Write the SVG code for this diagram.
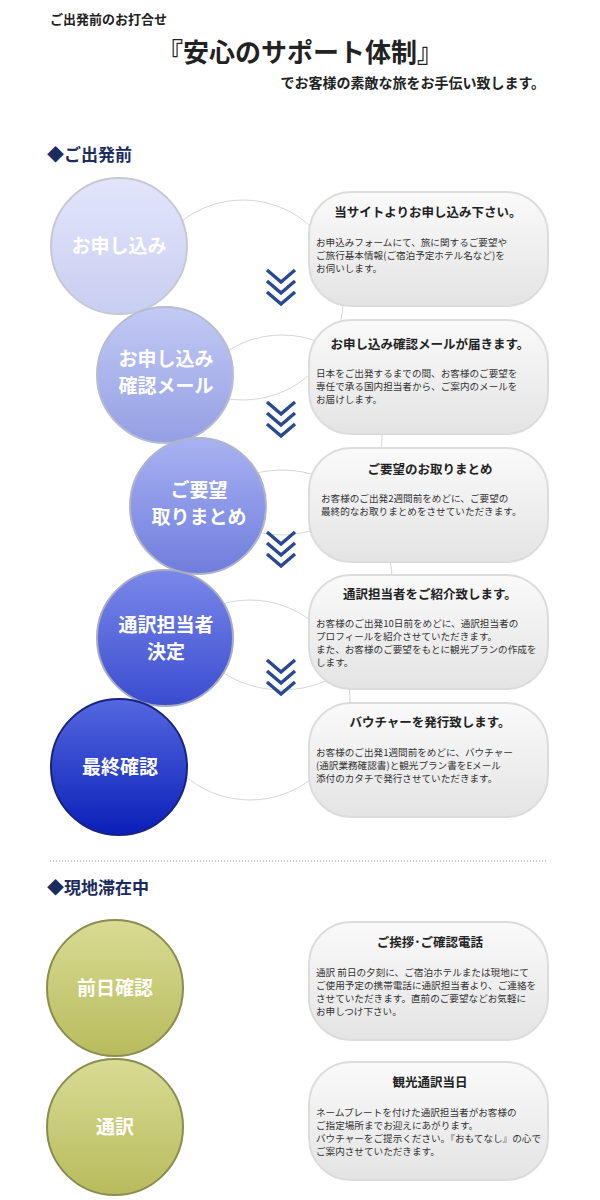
<svg xmlns="http://www.w3.org/2000/svg" width="600" height="1200" viewBox="0 0 600 1200">
<defs>
<style>
text{font-family:"Noto Sans CJK JP",sans-serif}
.h{font-weight:bold;fill:#222}
.sec{font-size:17px;font-weight:bold;fill:#1b2b5e}
.ct{font-size:19px;font-weight:bold;fill:#fff;text-anchor:middle}
.bt{font-size:12.5px;font-weight:bold;fill:#222;text-anchor:middle}
.bd{font-size:9.6px;fill:#333}
.box{fill:url(#gb);stroke:#dcdcdc;stroke-width:2}
.deco{fill:none;stroke:#d6d6d6;stroke-width:1}
.chev{fill:none;stroke:#2a4a90;stroke-width:3.5}
</style>
<linearGradient id="gb" x1="0" y1="0" x2="0" y2="1"><stop offset="0" stop-color="#fafafa"/><stop offset="1" stop-color="#e4e4e4"/></linearGradient>
<linearGradient id="c1" x1="0" y1="0" x2="0" y2="1"><stop offset="0" stop-color="#e2e5fa"/><stop offset="1" stop-color="#c8cef2"/></linearGradient>
<linearGradient id="c2" x1="0" y1="0" x2="0" y2="1"><stop offset="0" stop-color="#c3caf4"/><stop offset="1" stop-color="#949fe4"/></linearGradient>
<linearGradient id="c3" x1="0" y1="0" x2="0" y2="1"><stop offset="0" stop-color="#a8b2f2"/><stop offset="1" stop-color="#6f7ddc"/></linearGradient>
<linearGradient id="c4" x1="0" y1="0" x2="0" y2="1"><stop offset="0" stop-color="#7a88ea"/><stop offset="1" stop-color="#3a4ccf"/></linearGradient>
<linearGradient id="c5" x1="0" y1="0" x2="0" y2="1"><stop offset="0" stop-color="#5568e0"/><stop offset="1" stop-color="#0a1fb8"/></linearGradient>
<linearGradient id="c6" x1="0" y1="0" x2="0" y2="1"><stop offset="0" stop-color="#d8dc94"/><stop offset="1" stop-color="#b8bb5c"/></linearGradient>
</defs>
<rect width="600" height="1200" fill="#fff"/>
<text x="50" y="24" class="h" font-size="13">ご出発前のお打合せ</text>
<text x="300" y="62" class="h" font-size="26" text-anchor="middle">『安心のサポート体制』</text>
<text x="545" y="88" class="h" font-size="14" text-anchor="end">でお客様の素敵な旅をお手伝い致します。</text>
<text x="47" y="161" class="sec">◆ご出発前</text>
<text x="47" y="894" class="sec">◆現地滞在中</text>
<line x1="50" y1="861" x2="548" y2="861" stroke="#999" stroke-dasharray="1,2"/>
<g id="deco">
<circle cx="243" cy="300" r="100" class="deco"/>
<circle cx="282" cy="435" r="100" class="deco"/>
<circle cx="282" cy="580" r="110" class="deco"/>
<circle cx="250" cy="700" r="100" class="deco"/>
</g>
<g id="connectors">
<path class="chev" d="M267,270 l14,12 l14,-12 M267,281 l14,12 l14,-12 M267,292 l14,12 l14,-12"/>
<path class="chev" d="M267,402 l14,12 l14,-12 M267,413 l14,12 l14,-12 M267,424 l14,12 l14,-12"/>
<path class="chev" d="M267,532 l14,12 l14,-12 M267,543 l14,12 l14,-12 M267,554 l14,12 l14,-12"/>
<path class="chev" d="M267,660 l14,12 l14,-12 M267,671 l14,12 l14,-12 M267,682 l14,12 l14,-12"/>
</g>
<g id="n1"><circle cx="119" cy="246" r="68" fill="url(#c1)" stroke="#c8c8d4" stroke-width="2"/><text x="119" y="253" class="ct">お申し込み</text></g>
<g id="n2"><circle cx="165" cy="375" r="68" fill="url(#c2)" stroke="#b8bcd0" stroke-width="2"/><text x="166" y="366" class="ct">お申し込み</text><text x="166" y="393" class="ct">確認メール</text></g>
<g id="n3"><circle cx="198" cy="506" r="68" fill="url(#c3)" stroke="#b0b4c8" stroke-width="2"/><text x="199" y="497" class="ct">ご要望</text><text x="199" y="524" class="ct">取りまとめ</text></g>
<g id="n4"><circle cx="165" cy="638" r="68" fill="url(#c4)" stroke="#a8acc0" stroke-width="2"/><text x="166" y="632" class="ct">通訳担当者</text><text x="166" y="659" class="ct">決定</text></g>
<g id="n5"><circle cx="119" cy="767" r="68" fill="url(#c5)" stroke="#1a2280" stroke-width="2"/><text x="120" y="774" class="ct">最終確認</text></g>
<g id="n6"><circle cx="115" cy="988" r="68" fill="url(#c6)" stroke="#8a8c50" stroke-width="2"/><text x="115" y="995" class="ct">前日確認</text></g>
<g id="n7"><circle cx="115" cy="1127" r="68" fill="url(#c6)" stroke="#8a8c50" stroke-width="2"/><text x="115" y="1134" class="ct">通訳</text></g>
<g id="b1"><rect x="309" y="192" width="239" height="114" rx="42" class="box"/><text x="428" y="217" class="bt">当サイトよりお申し込み下さい。</text>
<text class="bd" x="316"><tspan y="246">お申込みフォームにて、旅に関するご要望や</tspan><tspan x="316" y="259">ご旅行基本情報(ご宿泊予定ホテル名など)を</tspan><tspan x="316" y="272">お伺いします。</tspan></text></g>
<g id="b2"><rect x="309" y="320" width="239" height="114" rx="42" class="box"/><text x="430" y="349" class="bt">お申し込み確認メールが届きます。</text>
<text class="bd" x="316"><tspan y="377">日本をご出発するまでの間、お客様のご要望を</tspan><tspan x="316" y="390">専任で承る国内担当者から、ご案内のメールを</tspan><tspan x="316" y="403">お届けします。</tspan></text></g>
<g id="b3"><rect x="309" y="448" width="239" height="114" rx="42" class="box"/><text x="430" y="474" class="bt">ご要望のお取りまとめ</text>
<text class="bd" x="321"><tspan y="502">お客様のご出発2週間前をめどに、ご要望の</tspan><tspan x="321" y="515">最終的なお取りまとめをさせていただきます。</tspan></text></g>
<g id="b4"><rect x="309" y="575" width="239" height="114" rx="42" class="box"/><text x="430" y="599" class="bt">通訳担当者をご紹介致します。</text>
<text class="bd" x="316"><tspan y="627">お客様のご出発10日前をめどに、通訳担当者の</tspan><tspan x="316" y="640">プロフィールを紹介させていただきます。</tspan><tspan x="316" y="653">また、お客様のご要望をもとに観光プランの作成を</tspan><tspan x="316" y="666">します。</tspan></text></g>
<g id="b5"><rect x="309" y="703" width="239" height="114" rx="42" class="box"/><text x="430" y="727" class="bt">バウチャーを発行致します。</text>
<text class="bd" x="316"><tspan y="756">お客様のご出発1週間前をめどに、バウチャー</tspan><tspan x="316" y="769">(通訳業務確認書)と観光プラン書をEメール</tspan><tspan x="316" y="782">添付のカタチで発行させていただきます。</tspan></text></g>
<g id="b6"><rect x="309" y="922" width="239" height="118" rx="42" class="box"/><text x="430" y="947" class="bt">ご挨拶･ご確認電話</text>
<text class="bd" x="316"><tspan y="976">通訳 前日の夕刻に、ご宿泊ホテルまたは現地にて</tspan><tspan x="316" y="989">ご使用予定の携帯電話に通訳担当者より、ご連絡を</tspan><tspan x="316" y="1002">させていただきます。直前のご要望などお気軽に</tspan><tspan x="316" y="1015">お申しつけ下さい。</tspan></text></g>
<g id="b7"><rect x="309" y="1062" width="239" height="118" rx="42" class="box"/><text x="430" y="1087" class="bt">観光通訳当日</text>
<text class="bd" x="316"><tspan y="1116">ネームプレートを付けた通訳担当者がお客様の</tspan><tspan x="316" y="1129">ご指定場所までお迎えにあがります。</tspan><tspan x="316" y="1142">バウチャーをご提示ください。『おもてなし』の心で</tspan><tspan x="316" y="1155">ご案内させていただきます。</tspan></text></g>
</svg>
